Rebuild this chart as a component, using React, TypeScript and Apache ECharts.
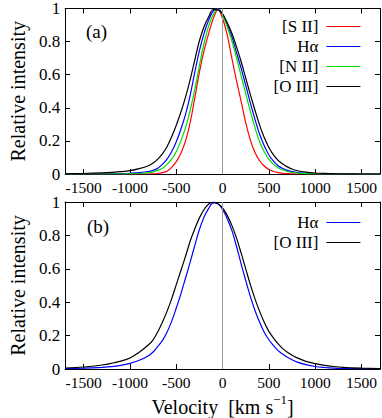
import React, { useEffect, useRef } from "react";
import * as echarts from "echarts";

const velocity = [-1700, -1500, -1300, -1200, -1100, -1000, -900, -800, -750, -700, -650, -600, -550, -500, -450, -400, -350, -300, -250, -200, -150, -100, -50, 0, 50, 100, 150, 200, 250, 300, 350, 400, 450, 500, 550, 600, 650, 700, 750, 800, 900, 1000, 1100, 1200, 1300, 1500, 1700];

// Panel (a)
const siiA = [0, 0, 0, 0, 0, 0, 0, 0, 0.001, 0.003, 0.008, 0.017, 0.04, 0.075, 0.125, 0.2, 0.31, 0.46, 0.615, 0.745, 0.85, 0.94, 0.995, 0.94, 0.84, 0.7, 0.565, 0.44, 0.31, 0.205, 0.13, 0.08, 0.048, 0.027, 0.015, 0.008, 0.004, 0.002, 0.001, 0, 0, 0, 0, 0, 0, 0, 0];
const haA = [0, 0, 0, 0.001, 0.002, 0.004, 0.008, 0.015, 0.022, 0.035, 0.058, 0.09, 0.135, 0.195, 0.27, 0.36, 0.475, 0.615, 0.745, 0.85, 0.93, 0.985, 0.998, 0.965, 0.9, 0.83, 0.735, 0.64, 0.535, 0.43, 0.33, 0.24, 0.17, 0.115, 0.078, 0.05, 0.033, 0.022, 0.014, 0.01, 0.004, 0.002, 0.001, 0, 0, 0, 0];
const niiA = [0, 0, 0, 0, 0, 0.001, 0.003, 0.008, 0.013, 0.022, 0.035, 0.058, 0.09, 0.135, 0.2, 0.28, 0.385, 0.51, 0.655, 0.79, 0.895, 0.965, 0.997, 0.96, 0.89, 0.805, 0.705, 0.595, 0.485, 0.38, 0.28, 0.195, 0.135, 0.088, 0.058, 0.038, 0.024, 0.015, 0.009, 0.006, 0.002, 0.001, 0, 0, 0, 0, 0];
const oiiiA = [0.001, 0.003, 0.007, 0.01, 0.014, 0.02, 0.032, 0.05, 0.066, 0.09, 0.122, 0.165, 0.225, 0.295, 0.375, 0.465, 0.57, 0.69, 0.805, 0.89, 0.95, 0.994, 0.992, 0.968, 0.915, 0.85, 0.77, 0.68, 0.58, 0.48, 0.385, 0.295, 0.22, 0.16, 0.115, 0.082, 0.06, 0.043, 0.03, 0.021, 0.011, 0.006, 0.004, 0.002, 0.001, 0, 0];

// Panel (b)
const haB = [0.002, 0.005, 0.01, 0.014, 0.022, 0.034, 0.052, 0.08, 0.102, 0.135, 0.17, 0.22, 0.285, 0.365, 0.45, 0.545, 0.64, 0.74, 0.835, 0.91, 0.962, 0.995, 0.99, 0.955, 0.9, 0.83, 0.735, 0.63, 0.53, 0.435, 0.35, 0.28, 0.22, 0.175, 0.14, 0.11, 0.088, 0.07, 0.055, 0.043, 0.026, 0.015, 0.009, 0.005, 0.003, 0.001, 0];
const oiiiB = [0.006, 0.012, 0.024, 0.034, 0.047, 0.066, 0.1, 0.145, 0.175, 0.222, 0.28, 0.345, 0.42, 0.505, 0.59, 0.675, 0.765, 0.84, 0.905, 0.955, 0.988, 1.0, 0.99, 0.965, 0.92, 0.86, 0.785, 0.695, 0.6, 0.505, 0.42, 0.345, 0.28, 0.225, 0.185, 0.15, 0.122, 0.1, 0.082, 0.068, 0.046, 0.032, 0.022, 0.015, 0.01, 0.005, 0.002];

const xTicks = [-1500, -1000, -500, 0, 500, 1000, 1500];
const namesA = ["[S II]", "Hα", "[N II]", "[O III]"];
const namesB = ["Hα", "[O III]"];

const FONT = "Liberation Serif, Times New Roman, serif";

const pairs = (ys: number[]) => velocity.map((v, i) => [v, ys[i]]);

export default function App() {
  const ref = useRef<HTMLDivElement>(null);
  useEffect(() => {
    if (!ref.current) return;
    const chart = echarts.init(ref.current, undefined, { renderer: "svg" });

    const xBottom = (gridIndex: number, extra: any = {}) => ({
      type: "value",
      gridIndex,
      position: "bottom",
      min: -1700,
      max: 1700,
      axisLine: { show: true, onZero: false, lineStyle: { color: "#000", width: 1 } },
      axisTick: { show: true, inside: true, length: 5, customValues: xTicks, lineStyle: { color: "#000" } },
      axisLabel: {
        show: true,
        customValues: xTicks,
        formatter: (v: number) => String(v),
        margin: 5,
        color: "#000",
        fontSize: 15.5,
        fontFamily: FONT,
      },
      splitLine: { show: false },
      ...extra,
    });
    const xTop = (gridIndex: number) => ({
      type: "value",
      gridIndex,
      position: "top",
      min: -1700,
      max: 1700,
      axisLine: { show: true, onZero: false, lineStyle: { color: "#000", width: 1 } },
      axisTick: { show: true, inside: true, length: 5, customValues: xTicks, lineStyle: { color: "#000" } },
      axisLabel: { show: false },
      splitLine: { show: false },
    });
    const yLeft = (gridIndex: number) => ({
      type: "value",
      gridIndex,
      position: "left",
      min: 0,
      max: 1,
      interval: 0.2,
      name: "Relative intensity",
      nameLocation: "middle",
      nameGap: 34,
      nameTextStyle: { fontSize: 20, fontFamily: FONT, color: "#000" },
      axisLine: { show: true, onZero: false, lineStyle: { color: "#000", width: 1 } },
      axisTick: { show: true, inside: true, length: 5, lineStyle: { color: "#000" } },
      axisLabel: { margin: 5, color: "#000", fontSize: 17, fontFamily: FONT },
      splitLine: { show: false },
    });
    const yRight = (gridIndex: number) => ({
      type: "value",
      gridIndex,
      position: "right",
      min: 0,
      max: 1,
      interval: 0.2,
      axisLine: { show: true, onZero: false, lineStyle: { color: "#000", width: 1 } },
      axisTick: { show: true, inside: true, length: 5, lineStyle: { color: "#000" } },
      axisLabel: { show: false },
      splitLine: { show: false },
    });

    const zeroLine = {
      silent: true,
      symbol: ["none", "none"],
      label: { show: false },
      lineStyle: { color: "#999", type: "solid", width: 1 },
      data: [{ xAxis: 0 }],
    };

    const mk = (name: string, color: string, ys: number[], xi: number, yi: number, withZero = false) => ({
      type: "line",
      name,
      xAxisIndex: xi,
      yAxisIndex: yi,
      data: pairs(ys),
      symbol: "none",
      smooth: 0.35,
      lineStyle: { color, width: 1.2 },
      itemStyle: { color },
      ...(withZero ? { markLine: zeroLine } : {}),
    });

    const legendBase = {
      orient: "vertical",
      align: "right",
      right: 16,
      itemWidth: 34,
      itemHeight: 14,
      itemGap: 3,
      selectedMode: false,
      itemStyle: { opacity: 0 },
      lineStyle: { width: 1.2 },
      textStyle: { fontSize: 17, fontFamily: FONT, color: "#000", padding: [0, 3, 0, 0] },
    };

    chart.setOption({
      animation: false,
      backgroundColor: "#fff",
      grid: [
        { left: 54, top: 6, width: 326, height: 168, show: false },
        { left: 54, top: 202, width: 326, height: 169, show: false },
      ],
      xAxis: [
        xBottom(0),
        xTop(0),
        xBottom(1, {
          name: "{n|Velocity  [km s}{s|−1}{n|]}",
          nameLocation: "middle",
          nameGap: 24,
          nameTextStyle: {
            rich: {
              n: { fontSize: 20, fontFamily: FONT, color: "#000", lineHeight: 24, verticalAlign: "bottom" },
              s: { fontSize: 13, fontFamily: FONT, color: "#000", lineHeight: 13, verticalAlign: "top" },
            },
          },
        }),
        xTop(1),
      ],
      yAxis: [yLeft(0), yRight(0), yLeft(1), yRight(1)],
      legend: [
        { ...legendBase, top: 13, data: namesA },
        { ...legendBase, top: 209, data: namesB },
      ],
      graphic: [
        { type: "text", left: 86, top: 22, style: { text: "(a)", fontSize: 19, fontFamily: FONT, fill: "#000" } },
        { type: "text", left: 87, top: 217, style: { text: "(b)", fontSize: 19, fontFamily: FONT, fill: "#000" } },
      ],
      series: [
        mk(namesA[0], "#ff0000", siiA, 0, 0, true),
        mk(namesA[1], "#0000ff", haA, 0, 0),
        mk(namesA[2], "#00dd00", niiA, 0, 0),
        mk(namesA[3], "#000000", oiiiA, 0, 0),
        mk(namesB[0], "#0000ff", haB, 2, 2, true),
        mk(namesB[1], "#000000", oiiiB, 2, 2),
      ],
    });
    return () => chart.dispose();
  }, []);
  return (
    <div
      ref={ref}
      style={{ position: "fixed", left: 0, top: 0, width: 382, height: 418, background: "#fff" }}
    />
  );
}
